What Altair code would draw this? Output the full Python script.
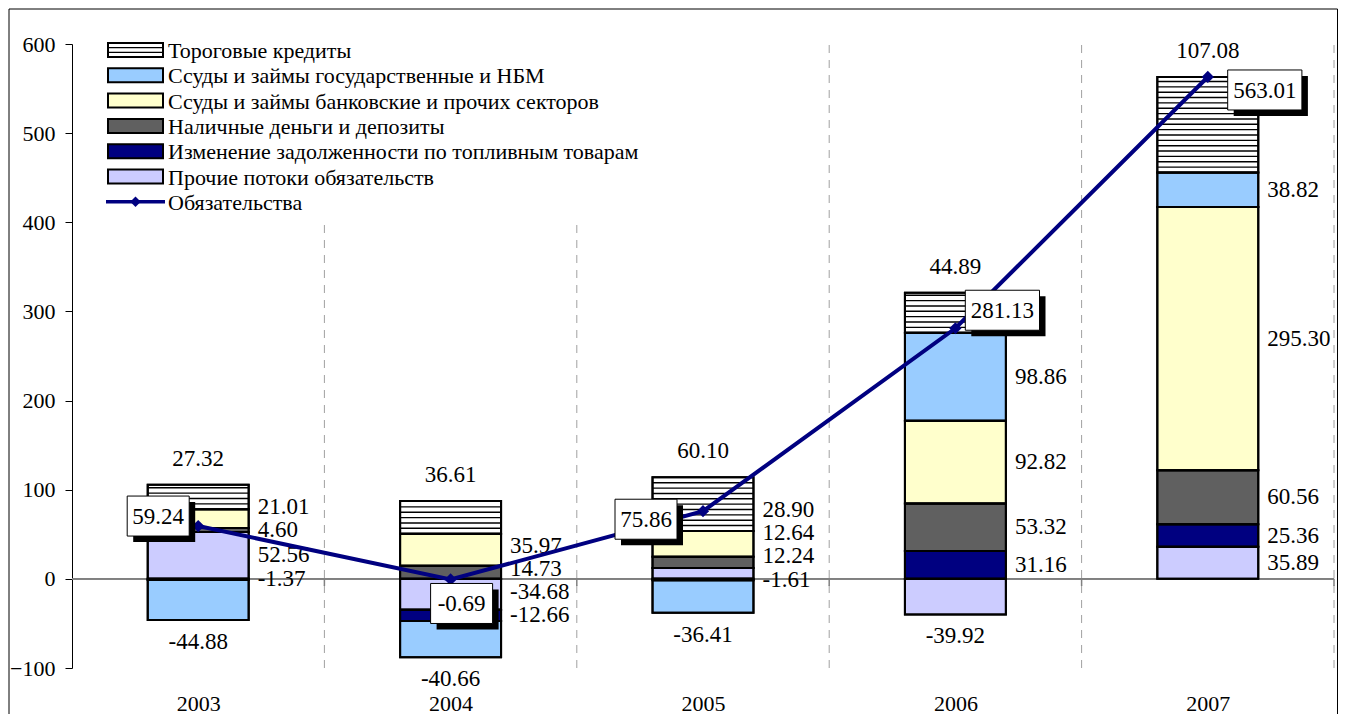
import altair as alt
import pandas as pd
import numpy as np

# ---------------- data ----------------
YEARS = ["2003", "2004", "2005", "2006", "2007"]
SERIES = [
    "Тороговые кредиты",
    "Ссуды и займы государственные и НБМ",
    "Ссуды и займы банковские и прочих секторов",
    "Наличные деньги и депозиты",
    "Изменение задолженности по топливным товарам",
    "Прочие потоки обязательств",
]
trade = [27.32, 36.61, 60.10, 44.89, 107.08]
loans_gov = [-44.88, -40.66, -36.41, 98.86, 38.82]
loans_bank = [21.01, 35.97, 28.90, 92.82, 295.30]
cash = [4.60, 14.73, 12.64, 53.32, 60.56]
fuel = [-1.37, -12.66, -1.61, 31.16, 25.36]
other = [52.56, -34.68, 12.24, -39.92, 35.89]
total = [59.24, -0.69, 75.86, 281.13, 563.01]
LINE_NAME = "Обязательства"

COLORS = ["#FFFFFF", "#99CCFF", "#FFFFCC", "#606060", "#000080", "#CCCCFF"]
NAVY = "#000080"
FONT = "Liberation Serif"
FS = 23

values_by_series = {
    SERIES[0]: trade,
    SERIES[1]: loans_gov,
    SERIES[2]: loans_bank,
    SERIES[3]: cash,
    SERIES[4]: fuel,
    SERIES[5]: other,
}
# stacking order from the axis outward
STACK_ORDER = [SERIES[5], SERIES[4], SERIES[3], SERIES[2], SERIES[1], SERIES[0]]

HALF = 0.2      # half bar width in category units
MIN_SEP = 26.0  # minimal vertical gap between side labels (data units)

rows = []
for i, yr in enumerate(YEARS):
    pos, neg = 0.0, 0.0
    year_rows = []
    for s in STACK_ORDER:
        v = values_by_series[s][i]
        if v >= 0:
            y0, y1 = pos, pos + v
            pos += v
        else:
            y0, y1 = neg, neg + v
            neg += v
        year_rows.append(dict(year=yr, idx=i, series=s, value=v, y0=y0, y1=y1,
                              x0=i - HALF, x1=i + HALF, mid=(y0 + y1) / 2,
                              label=f"{v:.2f}"))
    pos_rows = [r for r in year_rows if r["value"] >= 0]
    neg_rows = [r for r in year_rows if r["value"] < 0]
    for r in year_rows:
        r["place"] = "right"
    if pos_rows:
        pos_rows[-1]["place"] = "top"
    if neg_rows:
        neg_rows[-1]["place"] = "bottom"
    # keep side labels from piling on top of each other
    side = sorted([r for r in year_rows if r["place"] == "right"], key=lambda r: r["mid"])
    prev = None
    for r in side:
        r["ly"] = r["mid"] if prev is None else max(r["mid"], prev + MIN_SEP)
        prev = r["ly"]
    for r in year_rows:
        r.setdefault("ly", r["mid"])
    rows.extend(year_rows)
bars = pd.DataFrame(rows)

# horizontal hatch lines for the striped series
STEP = 6.0
stripe_rows = []
for r in rows:
    if r["series"] == SERIES[0]:
        lo, hi = min(r["y0"], r["y1"]), max(r["y0"], r["y1"])
        yy = lo + STEP
        while yy < hi - 1.5:
            stripe_rows.append(dict(x0=r["x0"], x1=r["x1"], y=yy))
            yy += STEP
stripes = pd.DataFrame(stripe_rows)

line_df = pd.DataFrame(dict(idx=list(range(len(YEARS))), total=total,
                            label=[f"{v:.2f}" for v in total], series=LINE_NAME))
bounds = pd.DataFrame(dict(xb=[i + 0.5 for i in range(len(YEARS))]))

# ---------------- scales / axes ----------------
W, H = 1262, 624
xscale = alt.Scale(domain=[-0.5, len(YEARS) - 0.5], nice=False, zero=False)
yscale = alt.Scale(domain=[-100, 600], nice=False, zero=False)
label_expr = "[" + ",".join(f"'{y}'" for y in YEARS) + "][datum.value]"

x_axis = alt.Axis(values=list(range(len(YEARS))), labelExpr=label_expr, title=None,
                  domain=False, ticks=False, grid=False, labelFont=FONT,
                  labelFontSize=22, labelColor="black", labelPadding=25)
y_axis = alt.Axis(values=list(range(-100, 601, 100)), title=None, grid=False,
                  domain=True, domainColor="black", domainWidth=1,
                  ticks=True, tickColor="black", tickSize=7, tickWidth=1,
                  labelFont=FONT, labelFontSize=22, labelColor="black", labelPadding=10)

fill_scale = alt.Scale(domain=SERIES, range=COLORS)

# ---------------- layers ----------------
grid = alt.Chart(bounds).mark_rule(color="#A0A0A0", strokeWidth=1, strokeDash=[8, 7]).encode(
    x=alt.X("xb:Q", scale=xscale, title=None),
    y=alt.Y(datum=-100, scale=yscale, title=None),
    y2=alt.Y2(datum=600),
)

zero = alt.Chart(bounds).mark_rule(color="#808080", strokeWidth=1.5).encode(
    x=alt.X(datum=-0.5, scale=xscale, title=None),
    x2=alt.X2(datum=len(YEARS) - 0.5),
    y=alt.Y(datum=0, scale=yscale, title=None),
)
zero_ticks = alt.Chart(bounds).mark_rule(color="#808080", strokeWidth=1.5).encode(
    x=alt.X("xb:Q", scale=xscale, title=None),
    y=alt.Y(datum=0, scale=yscale, title=None),
    y2=alt.Y2(datum=-8),
)

bar_layer = alt.Chart(bars).mark_rect(stroke="black", strokeWidth=2).encode(
    x=alt.X("x0:Q", scale=xscale, axis=x_axis),
    x2="x1:Q",
    y=alt.Y("y0:Q", scale=yscale, axis=y_axis),
    y2="y1:Q",
    fill=alt.Fill("series:N", scale=fill_scale, legend=None),
)

stripe_layer = alt.Chart(stripes).mark_rule(color="black", strokeWidth=1.4).encode(
    x=alt.X("x0:Q", scale=xscale, title=None),
    x2="x1:Q",
    y=alt.Y("y:Q", scale=yscale, title=None),
)

outline = alt.Chart(bars).mark_rect(fillOpacity=0, stroke="black", strokeWidth=2).encode(
    x=alt.X("x0:Q", scale=xscale, title=None),
    x2="x1:Q",
    y=alt.Y("y0:Q", scale=yscale, title=None),
    y2="y1:Q",
)

txt = dict(font=FONT, fontSize=FS, color="black")
lab_right = alt.Chart(bars).transform_filter(alt.datum.place == "right").mark_text(
    align="left", baseline="middle", dx=9, **txt).encode(
    x=alt.X("x1:Q", scale=xscale, title=None),
    y=alt.Y("ly:Q", scale=yscale, title=None),
    text="label:N",
)
lab_top = alt.Chart(bars).transform_filter(alt.datum.place == "top").mark_text(
    align="center", baseline="middle", dy=-26, **txt).encode(
    x=alt.X("idx:Q", scale=xscale, title=None),
    y=alt.Y("y1:Q", scale=yscale, title=None),
    text="label:N",
)
lab_bottom = alt.Chart(bars).transform_filter(alt.datum.place == "bottom").mark_text(
    align="center", baseline="middle", dy=22, **txt).encode(
    x=alt.X("idx:Q", scale=xscale, title=None),
    y=alt.Y("y1:Q", scale=yscale, title=None),
    text="label:N",
)

line_layer = alt.Chart(line_df).mark_line(strokeWidth=4, color=NAVY).encode(
    x=alt.X("idx:Q", scale=xscale, title=None),
    y=alt.Y("total:Q", scale=yscale, title=None),
)
diamonds = alt.Chart(line_df).mark_point(shape="diamond", filled=True, size=150,
                                         color=NAVY, opacity=1).encode(
    x=alt.X("idx:Q", scale=xscale, title=None),
    y=alt.Y("total:Q", scale=yscale, title=None),
)

# value boxes for the line (offsets in px relative to the point)
BOX_OFFSETS = {"2003": (-40, -10), "2004": (11, 24), "2005": (-57, 8),
               "2006": (47, -18), "2007": (57, 13)}
U = 20.0  # path unit in px for size 1600


def box_path(w, h, dx, dy):
    x1, x2 = (dx - w / 2) / U, (dx + w / 2) / U
    y1, y2 = (dy - h / 2) / U, (dy + h / 2) / U
    return f"M{x1:.3f},{y1:.3f}L{x2:.3f},{y1:.3f}L{x2:.3f},{y2:.3f}L{x1:.3f},{y2:.3f}Z"


box_layers = []
for i, yr in enumerate(YEARS):
    dx, dy = BOX_OFFSETS[yr]
    lab = f"{total[i]:.2f}"
    w = 12.2 * len(lab) + 1
    h = 40
    base = alt.Chart(line_df).transform_filter(alt.datum.idx == i)
    enc = dict(x=alt.X("idx:Q", scale=xscale, title=None),
               y=alt.Y("total:Q", scale=yscale, title=None))
    shadow = base.mark_point(shape=box_path(w, h, dx + 6, dy + 6), size=1600,
                             filled=True, fill="black", opacity=1).encode(**enc)
    box = base.mark_point(shape=box_path(w, h, dx, dy), size=1600, filled=True,
                          fill="white", stroke="black", strokeWidth=1,
                          opacity=1).encode(**enc)
    t = base.mark_text(align="center", baseline="middle", dx=dx, dy=dy + 1,
                       **txt).encode(text="label:N", **enc)
    box_layers += [shadow, box, t]

# ---------------- legend (drawn in plot pixels) ----------------
LEG_X0, LEG_X1, LEG_TXT = 36, 91, 96
LEG_Y0, LEG_DY, SW_H = 6, 25.3, 14
one = pd.DataFrame(dict(a=[0]))
legend_layers = [
    alt.Chart(one).mark_rect(fill="white", stroke=None).encode(
        x=alt.value(28), x2=alt.value(625), y=alt.value(-14), y2=alt.value(180))
]
for k, s in enumerate(SERIES):
    yc = LEG_Y0 + LEG_DY * k
    legend_layers.append(
        alt.Chart(one).mark_rect(fill=COLORS[k], stroke="black", strokeWidth=2).encode(
            x=alt.value(LEG_X0), x2=alt.value(LEG_X1),
            y=alt.value(yc - SW_H / 2), y2=alt.value(yc + SW_H / 2)))
    if s == SERIES[0]:
        for off in (-2.4, 2.4):
            legend_layers.append(
                alt.Chart(one).mark_rule(color="black", strokeWidth=1.3).encode(
                    x=alt.value(LEG_X0), x2=alt.value(LEG_X1), y=alt.value(yc + off)))
    legend_layers.append(
        alt.Chart(one).mark_text(align="left", baseline="middle", font=FONT,
                                 fontSize=22, color="black", text=s).encode(
            x=alt.value(LEG_TXT), y=alt.value(yc + 1)))
yc = LEG_Y0 + LEG_DY * len(SERIES)
legend_layers += [
    alt.Chart(one).mark_rule(color=NAVY, strokeWidth=3.5).encode(
        x=alt.value(LEG_X0 - 2), x2=alt.value(LEG_X1 + 2), y=alt.value(yc)),
    alt.Chart(one).mark_point(shape="diamond", filled=True, size=110, color=NAVY,
                              opacity=1).encode(
        x=alt.value((LEG_X0 + LEG_X1) / 2), y=alt.value(yc)),
    alt.Chart(one).mark_text(align="left", baseline="middle", font=FONT,
                             fontSize=22, color="black", text=LINE_NAME).encode(
        x=alt.value(LEG_TXT), y=alt.value(yc + 1)),
]

frame = alt.Chart(one).mark_rect(
    fillOpacity=0, stroke="black", strokeWidth=1).encode(
    x=alt.value(-63), x2=alt.value(W + 3.5), y=alt.value(-35), y2=alt.value(700))

chart = alt.layer(
    grid, zero, bar_layer, stripe_layer, outline, zero_ticks,
    lab_right, lab_top, lab_bottom,
    line_layer, diamonds, *box_layers, *legend_layers, frame,
).properties(
    width=W, height=H,
    autosize=alt.AutoSizeParams(type="none"),
    padding={"left": 64, "top": 36, "right": 4, "bottom": 46},
).configure(font=FONT).configure_view(stroke=None)

chart.save("out.html", embed_options={"renderer": "svg", "actions": False})
